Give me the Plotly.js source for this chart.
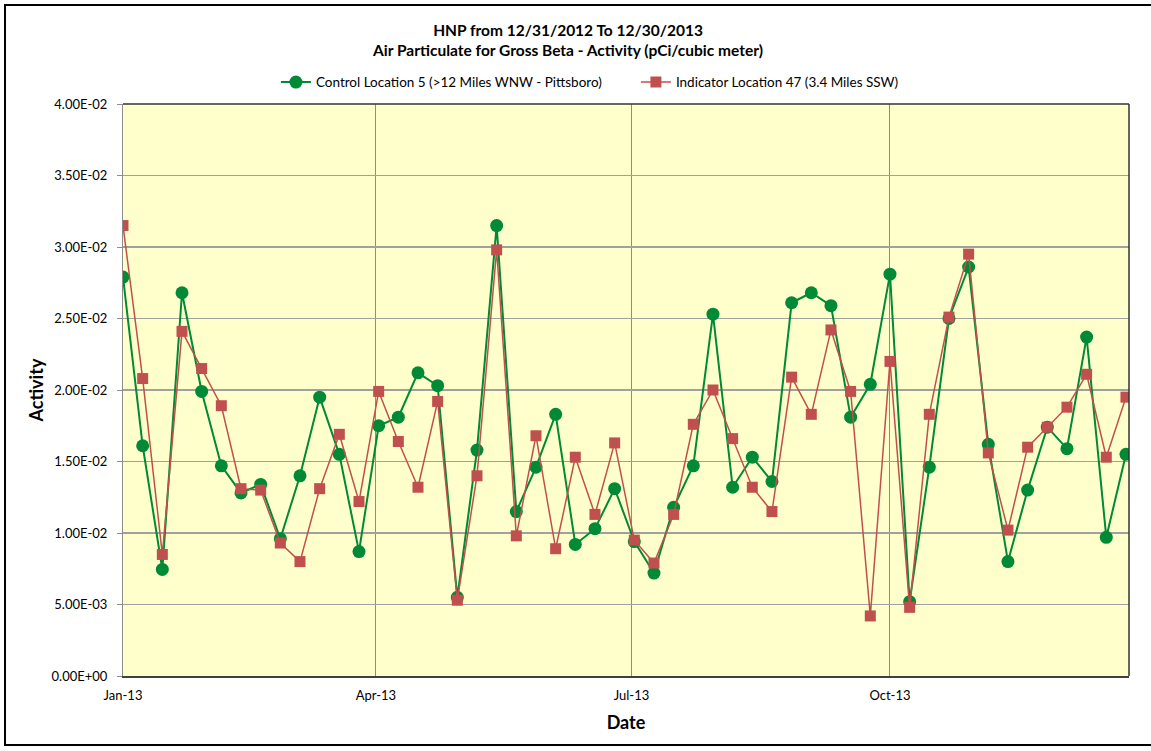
<!DOCTYPE html>
<html>
<head>
<meta charset="utf-8">
<script src="https://cdn.plot.ly/plotly-3.0.1.min.js"></script>
<style>
  html, body { margin: 0; padding: 0; background: #fff; overflow: hidden; }
  #wrap { position: relative; width: 1151px; height: 751px; }
  #chart { position: absolute; left: 0; top: 0; width: 1151px; height: 751px; }
  #frame { position: absolute; left: 4px; top: 4px; width: 1160px; height: 742px;
           border: 2.5px solid #000; box-sizing: border-box; pointer-events: none; }
</style>
</head>
<body>
<div id="wrap">
  <div id="chart"></div>
  <div id="frame"></div>
</div>
<script>
// Weekly sample dates (52 collections)
const startDate = '2013-01-01';
const nWeeks = 52;

// Control Location 5 (>12 Miles WNW - Pittsboro)
const controlValues = [
  0.0279, 0.0161, 0.00745, 0.0268, 0.0199, 0.0147, 0.0128, 0.0134, 0.0096, 0.0140,
  0.0195, 0.0155, 0.0087, 0.0175, 0.0181, 0.0212, 0.0203, 0.0055, 0.0158, 0.0315,
  0.0115, 0.0146, 0.0183, 0.0092, 0.0103, 0.0131, 0.0094, 0.0072, 0.0118, 0.0147,
  0.0253, 0.0132, 0.0153, 0.0136, 0.0261, 0.0268, 0.0259, 0.0181, 0.0204, 0.0281,
  0.0052, 0.0146, 0.0250, 0.0286, 0.0162, 0.0080, 0.0130, 0.0174, 0.0159, 0.0237,
  0.0097, 0.0155
];

// Indicator Location 47 (3.4 Miles SSW)
const indicatorValues = [
  0.0315, 0.0208, 0.0085, 0.0241, 0.0215, 0.0189, 0.0131, 0.0130, 0.0093, 0.0080,
  0.0131, 0.0169, 0.0122, 0.0199, 0.0164, 0.0132, 0.0192, 0.0053, 0.0140, 0.0298,
  0.0098, 0.0168, 0.0089, 0.0153, 0.0113, 0.0163, 0.0095, 0.0079, 0.0113, 0.0176,
  0.0200, 0.0166, 0.0132, 0.0115, 0.0209, 0.0183, 0.0242, 0.0199, 0.0042, 0.0220,
  0.0048, 0.0183, 0.0251, 0.0295, 0.0156, 0.0102, 0.0160, 0.0174, 0.0188, 0.0211,
  0.0153, 0.0195
];

const xTickVals = ['2013-01-01', '2013-04-01', '2013-07-01', '2013-10-01'];
const xTickText = ['Jan-13', 'Apr-13', 'Jul-13', 'Oct-13'];
const yTickVals = [0, 0.005, 0.01, 0.015, 0.02, 0.025, 0.03, 0.035, 0.04];
const yTickText = ['0.00E+00', '5.00E-03', '1.00E-02', '1.50E-02', '2.00E-02',
                   '2.50E-02', '3.00E-02', '3.50E-02', '4.00E-02'];

const seriesNames = ['Control Location 5 (>12 Miles WNW - Pittsboro)',
                     'Indicator Location 47 (3.4 Miles SSW)'];

// Build weekly date strings
const dates = [];
const d0 = new Date(startDate + 'T00:00:00Z');
for (let i = 0; i < nWeeks; i++) {
  const d = new Date(d0.getTime() + i * 7 * 86400000);
  dates.push(d.toISOString().slice(0, 10));
}

const FONT = 'Lato, "Open Sans", sans-serif';

const traces = [
  {
    x: dates, y: controlValues, name: seriesNames[0],
    type: 'scatter', mode: 'lines+markers',
    line: { color: '#008A36', width: 2 },
    marker: { symbol: 'circle', size: 13, color: '#008A36' }
  },
  {
    x: dates, y: indicatorValues, name: seriesNames[1],
    type: 'scatter', mode: 'lines+markers',
    line: { color: '#C0504D', width: 1.5 },
    marker: { symbol: 'square', size: 11, color: '#C0504D' }
  }
];

const layout = {
  width: 1151, height: 751,
  margin: { l: 123, r: 22, t: 104, b: 75, pad: 0 },
  paper_bgcolor: '#ffffff',
  plot_bgcolor: '#FFFFCC',
  font: { family: FONT, size: 12, color: '#000' },
  showlegend: true,
  title: {
    text: '<b>HNP from 12/31/2012 To 12/30/2013</b><br><b>Air Particulate for Gross Beta - Activity (pCi/cubic meter)</b>',
    font: { family: FONT, size: 15.5, color: '#000' },
    x: 0.4935, xanchor: 'center', xref: 'container',
    y: 0.9525, yanchor: 'middle', yref: 'container'
  },
  legend: {
    orientation: 'h', x: 0.152, xanchor: 'left', y: 1.038, yanchor: 'middle',
    font: { family: FONT, size: 13.5, color: '#000' },
    bgcolor: 'rgba(0,0,0,0)', itemwidth: 30, tracegroupgap: 0,
    entrywidth: 315, entrywidthmode: 'pixels'
  },
  xaxis: {
    type: 'date',
    range: ['2013-01-01', '2013-12-25 02:00'],
    tickvals: xTickVals, ticktext: xTickText,
    showgrid: true, gridcolor: '#8C8C8C', gridwidth: 1,
    showline: true, linecolor: '#404040', linewidth: 1.5,
    ticks: 'outside', ticklen: 0, ticklabelstandoff: 7,
    tickfont: { family: FONT, size: 13, color: '#000' },
    zeroline: false,
    title: { text: '<b>Date</b>', font: { family: FONT, size: 18, color: '#000' }, standoff: 14 }
  },
  yaxis: {
    range: [0, 0.04],
    tickvals: yTickVals, ticktext: yTickText,
    showgrid: true, gridcolor: '#A0A0A0', gridwidth: 1.2,
    showline: true, linecolor: '#8C8C8C', linewidth: 1,
    ticks: 'outside', ticklen: 5, tickcolor: '#8C8C8C', ticklabelstandoff: 7,
    tickfont: { family: FONT, size: 13, color: '#000' },
    zeroline: false,
    title: { text: '<b>Activity</b>', font: { family: FONT, size: 18, color: '#000' }, standoff: 3 }
  },
  shapes: [
    { type: 'line', xref: 'paper', yref: 'paper', x0: 0, x1: 1, y0: 1, y1: 1,
      line: { color: '#333333', width: 1.5 } },
    { type: 'line', xref: 'paper', yref: 'paper', x0: 1, x1: 1, y0: 0, y1: 1,
      line: { color: '#333333', width: 1.5 } }
  ]
};

Plotly.newPlot('chart', traces, layout, { displayModeBar: false, staticPlot: true });
</script>
</body>
</html>
